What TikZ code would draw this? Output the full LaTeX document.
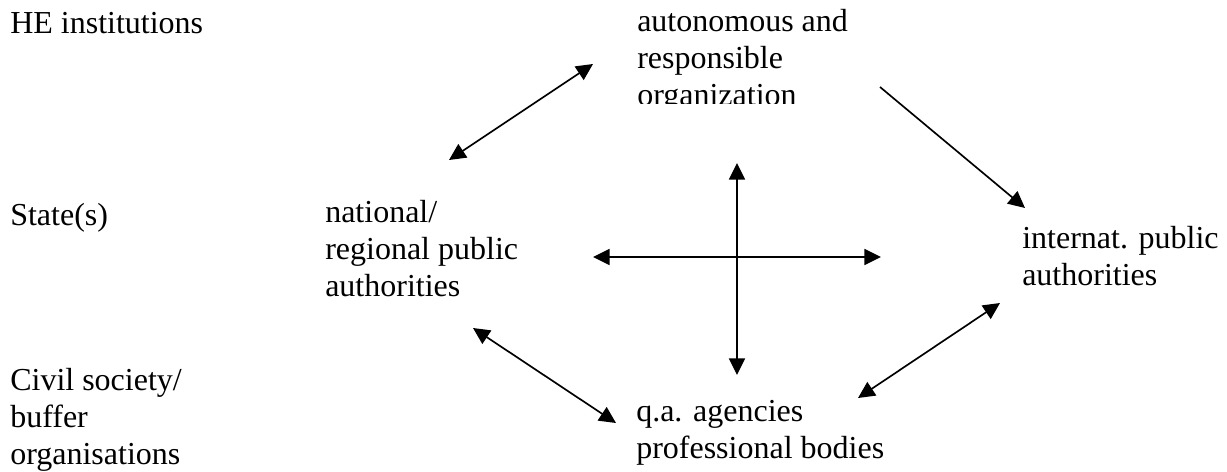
\documentclass[tikz,border=0pt]{standalone}
\usepackage{fontspec}
\setmainfont{Liberation Serif}
\usetikzlibrary{arrows.meta}
\begin{document}
\begin{tikzpicture}[x=0.75pt,y=-0.75pt,
  lbl/.style={anchor=base west, align=left, inner sep=0pt, font=\fontsize{24pt}{27.4pt}\selectfont},
  link/.style={line width=1.25pt, {Triangle[length=12.5pt,width=12pt]}-{Triangle[length=12.5pt,width=12pt]}},
  onelink/.style={line width=1.25pt, -{Triangle[length=12.5pt,width=12pt]}}]
\useasboundingbox (0,0) rectangle (1227,471);
% row labels (anchor = baseline of the last line)
\node[lbl] (he) at (10,33) {HE institutions};
\node[lbl] (state) at (10,225) {State(s)};
\node[lbl] (civil) at (10,464) {Civil society/\\buffer\\organisations};
% actors
\begin{scope}
\clip (600,0) rectangle (900,103);
\node[lbl] (org) at (637,105) {autonomous and\\responsible\\organization};
\end{scope}
\node[lbl] (nat) at (325,296) {national/\\regional public\\authorities};
\node[lbl] (intl) at (1022,285) {internat. public\\authorities};
\node[lbl] (qa) at (636,458) {q.a. agencies\\professional bodies};
% arrow end points
\coordinate (a1) at (449,160);
\coordinate (a2) at (593,64);
\coordinate (b1) at (880,87);
\coordinate (b2) at (1025,208);
\coordinate (v1) at (737,163);
\coordinate (v2) at (737,375);
\coordinate (h1) at (593,257);
\coordinate (h2) at (881,257);
\coordinate (c1) at (473,328);
\coordinate (c2) at (616,423);
\coordinate (d1) at (858,398);
\coordinate (d2) at (1000,303);
% connectors
\draw[link] (a1) -- (a2);
\draw[onelink] (b1) -- (b2);
\draw[link] (v1) -- (v2);
\draw[link] (h1) -- (h2);
\draw[link] (c1) -- (c2);
\draw[link] (d1) -- (d2);
\end{tikzpicture}
\end{document}
